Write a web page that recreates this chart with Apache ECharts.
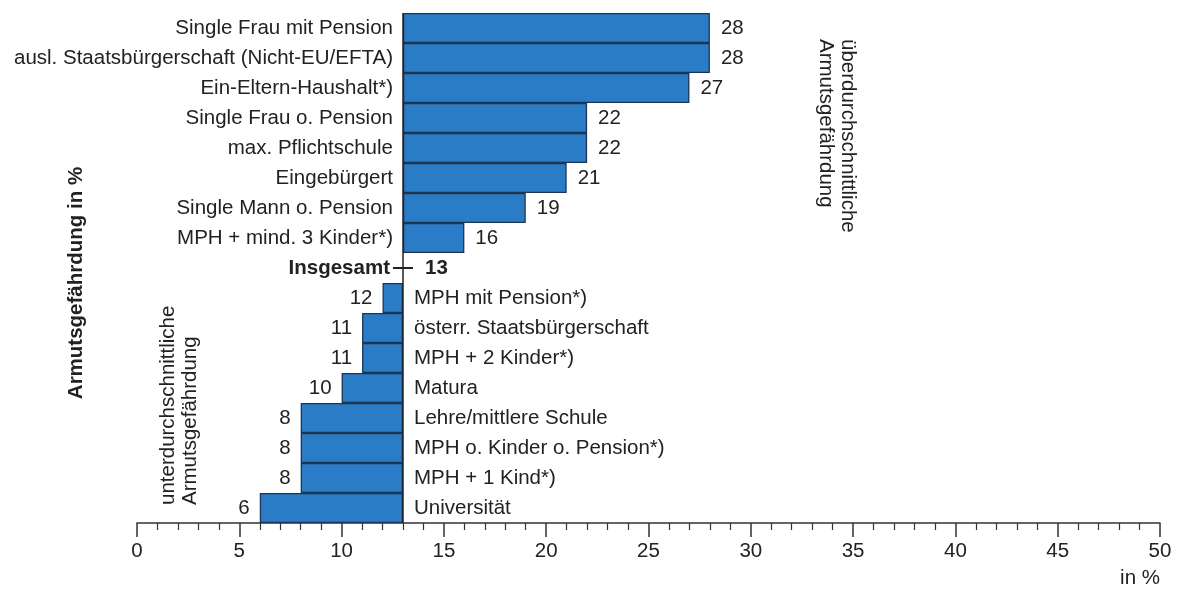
<!DOCTYPE html>
<html>
<head>
<meta charset="utf-8">
<script src="https://cdn.jsdelivr.net/npm/echarts@6/dist/echarts.min.js"></script>
<style>html,body{margin:0;padding:0;background:#fff}#c{width:1180px;height:590px}</style>
</head>
<body>
<div id="c"></div>
<script>
const categories = [
  'Single Frau mit Pension',
  'ausl. Staatsbürgerschaft (Nicht-EU/EFTA)',
  'Ein-Eltern-Haushalt*)',
  'Single Frau o. Pension',
  'max. Pflichtschule',
  'Eingebürgert',
  'Single Mann o. Pension',
  'MPH + mind. 3 Kinder*)',
  'Insgesamt',
  'MPH mit Pension*)',
  'österr. Staatsbürgerschaft',
  'MPH + 2 Kinder*)',
  'Matura',
  'Lehre/mittlere Schule',
  'MPH o. Kinder o. Pension*)',
  'MPH + 1 Kind*)',
  'Universität'
];
const values = [28, 28, 27, 22, 22, 21, 19, 16, 13, 12, 11, 11, 10, 8, 8, 8, 6];
const overallIndex = 8;
const overall = values[overallIndex];
const xTicks = [0, 5, 10, 15, 20, 25, 30, 35, 40, 45, 50];

const FONT = '"Liberation Sans", Arial, sans-serif';
const FS = 20.5;
const TXT = '#222';
const BAR = '#2a7cc6';
const EDGE = '#1c3553';

// stacked: transparent base from 0, visible part between overall and value
const baseData = values.map((v, i) => i === overallIndex ? overall : Math.min(v, overall));
const barData = values.map((v, i) => i === overallIndex ? '-' : Math.abs(v - overall));

const chart = echarts.init(document.getElementById('c'), null, {renderer: 'canvas'});
chart.setOption({
  animation: false,
  grid: {left: 137, right: 20, top: 13, bottom: 67, containLabel: false},
  xAxis: {
    type: 'value', min: xTicks[0], max: xTicks[xTicks.length - 1], interval: 5,
    axisLine: {show: true, lineStyle: {color: '#333', width: 1.5}},
    axisTick: {show: true, length: 14, lineStyle: {color: '#333', width: 1.5}},
    minorTick: {show: true, splitNumber: 5, length: 7, lineStyle: {color: '#333', width: 1.2}},
    splitLine: {show: false},
    axisLabel: {fontFamily: FONT, fontSize: FS, color: TXT, margin: 18}
  },
  yAxis: {
    type: 'category', data: categories, inverse: true,
    axisLine: {show: false}, axisTick: {show: false}, axisLabel: {show: false}
  },
  series: [
    {
      type: 'bar', stack: 's', data: baseData, barCategoryGap: '0%',
      itemStyle: {color: 'rgba(0,0,0,0)'},
      label: {
        show: true, position: 'insideRight', distance: 10,
        fontFamily: FONT, fontSize: FS, color: TXT,
        formatter: p => {
          const i = p.dataIndex;
          if (i === overallIndex) return '{b|' + categories[i] + '}';
          return values[i] > overall ? categories[i] : String(values[i]);
        },
        rich: {b: {fontFamily: FONT, fontSize: FS, fontWeight: 'bold', color: TXT, padding: [0, 3, 0, 0]}}
      },
      silent: true
    },
    {
      type: 'bar', stack: 's', data: barData, barCategoryGap: '0%',
      itemStyle: {color: BAR, borderColor: EDGE, borderWidth: 1.3},
      label: {
        show: true, position: 'right', distance: 11,
        fontFamily: FONT, fontSize: FS, color: TXT,
        formatter: p => {
          const i = p.dataIndex;
          return values[i] > overall ? String(values[i]) : categories[i];
        }
      },
      markLine: {
        silent: true, symbol: 'none', label: {show: false},
        lineStyle: {color: '#222', width: 1.5, type: 'solid'},
        data: [{xAxis: overall}]
      }
    },
    {
      type: 'scatter',
      data: [[overall, categories[overallIndex]]],
      symbol: 'rect', symbolSize: [20, 2],
      itemStyle: {color: '#222', opacity: 1},
      label: {
        show: true, position: 'right', distance: 12,
        formatter: () => String(overall),
        fontFamily: FONT, fontSize: FS, fontWeight: 'bold', color: TXT
      }
    }
  ],
  graphic: [
    {type: 'text', x: 76, y: 283, rotation: Math.PI / 2,
     style: {text: 'Armutsgefährdung in %', fontFamily: FONT, fontSize: FS, fontWeight: 'bold', fill: TXT, align: 'center', verticalAlign: 'middle'}},
    {type: 'text', x: 837, y: 39, rotation: -Math.PI / 2,
     style: {text: 'überdurchschnittliche\nArmutsgefährdung', fontFamily: FONT, fontSize: FS, lineHeight: 22, fill: TXT, align: 'left', verticalAlign: 'middle'}},
    {type: 'text', x: 179, y: 505, rotation: Math.PI / 2,
     style: {text: 'unterdurchschnittliche\nArmutsgefährdung', fontFamily: FONT, fontSize: FS, lineHeight: 22, fill: TXT, align: 'left', verticalAlign: 'middle'}},
    {type: 'text', x: 1160, y: 578,
     style: {text: 'in %', fontFamily: FONT, fontSize: FS, fill: TXT, align: 'right', verticalAlign: 'middle'}}
  ]
});
</script>
</body>
</html>
